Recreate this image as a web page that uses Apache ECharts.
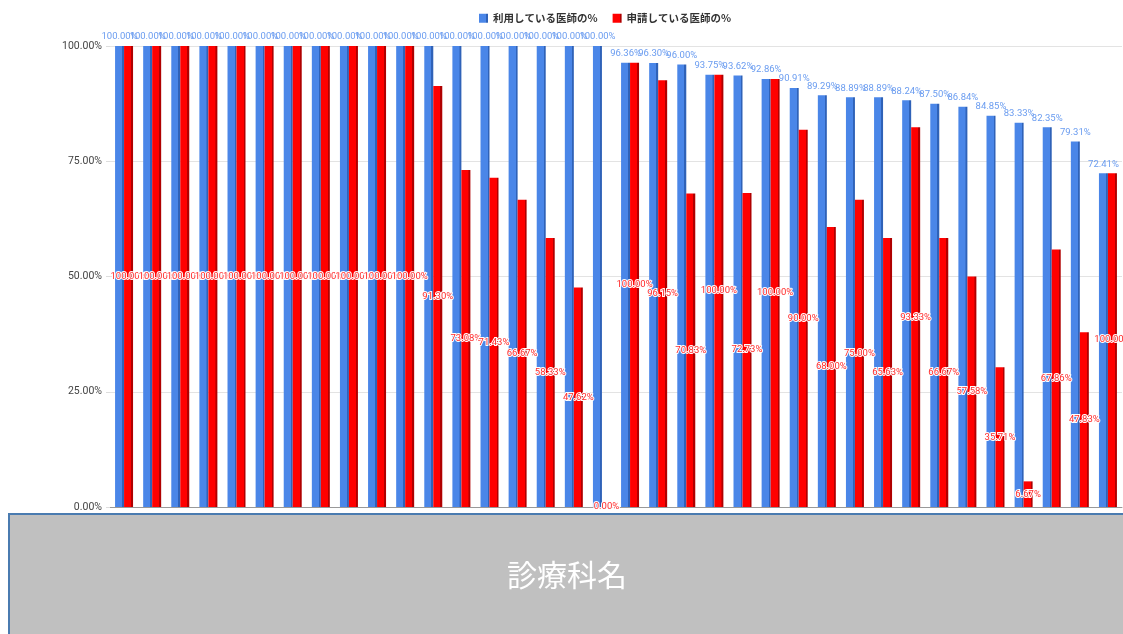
<!DOCTYPE html>
<html>
<head>
<meta charset="utf-8">
<style>
  html, body { margin: 0; padding: 0; background: #fff; }
  #chart { width: 1123px; height: 634px; }
</style>
<script src="https://cdn.jsdelivr.net/npm/echarts@6/dist/echarts.min.js"></script>
</head>
<body>
<div id="chart"></div>
<script>
// 診療科（ラベルは灰色の帯で隠れている）
const categories = Array.from({ length: 36 }, (_, i) => String(i + 1));

// 利用している医師の%
const usingPct = [
  100, 100, 100, 100, 100, 100, 100, 100, 100, 100, 100, 100, 100, 100, 100, 100, 100, 100,
  96.36, 96.30, 96.00, 93.75, 93.62, 92.86, 90.91, 89.29, 88.89, 88.89, 88.24, 87.50,
  86.84, 84.85, 83.33, 82.35, 79.31, 72.41
];

// 申請している医師の%（利用している医師に対する割合）
const applyPct = [
  100, 100, 100, 100, 100, 100, 100, 100, 100, 100, 100, 91.30, 73.08, 71.43, 66.67, 58.33, 47.62, 0,
  100, 96.15, 70.83, 100, 72.73, 100, 90.00, 68.00, 75.00, 65.63, 93.33, 66.67,
  57.58, 35.71, 6.67, 67.86, 47.83, 100
];

const yTicks = [0, 25, 50, 75, 100];
const legendNames = ['利用している医師の%', '申請している医師の%'];

// 赤い棒の高さは 利用% × 申請%
const applyBar = applyPct.map((v, i) => +(usingPct[i] * v / 100).toFixed(2));

const blue = '#4a86e8';
const red = '#ff0000';

function side(main, dark) {
  return {
    type: 'linear', x: 0, y: 0, x2: 1, y2: 0,
    colorStops: [
      { offset: 0, color: main },
      { offset: 0.78, color: main },
      { offset: 0.8, color: dark },
      { offset: 1, color: dark }
    ]
  };
}

const chart = echarts.init(document.getElementById('chart'));
chart.setOption({
  animation: false,
  legend: {
    data: legendNames,
    top: 8,
    left: 474,
    itemWidth: 9,
    itemHeight: 9,
    itemGap: 15,
    icon: 'rect',
    textStyle: { fontSize: 10.5, color: '#333', fontWeight: 'bold', fontFamily: 'Noto Sans CJK JP' }
  },
  grid: { left: 110, right: 1, top: 46, bottom: 127 },
  xAxis: {
    type: 'category',
    data: categories,
    axisTick: { show: false },
    axisLabel: { show: false },
    axisLine: { lineStyle: { color: '#999', width: 1 } }
  },
  yAxis: {
    type: 'value',
    min: 0,
    max: 100,
    interval: 25,
    axisLine: { show: false },
    axisTick: { show: true, length: 4, lineStyle: { color: '#ddd' } },
    splitLine: { lineStyle: { color: '#e3e3e3' } },
    axisLabel: {
      color: '#444',
      fontSize: 10.5,
      margin: 8,
      fontFamily: 'Roboto',
      formatter: v => v.toFixed(2) + '%'
    }
  },
  series: [
    {
      name: legendNames[0],
      type: 'bar',
      data: usingPct,
      barGap: '0%',
      barCategoryGap: '36%',
      itemStyle: { color: side(blue, '#2f62b8') },
      label: {
        show: true,
        position: 'top',
        distance: 4,
        fontSize: 9.5,
        color: '#6a9cf0',
        fontFamily: 'Roboto',
        formatter: p => p.value.toFixed(2) + '%'
      }
    },
    {
      name: legendNames[1],
      type: 'bar',
      data: applyBar,
      itemStyle: { color: side(red, '#b00000') },
      label: {
        show: true,
        position: 'inside',
        fontSize: 9.5,
        color: '#ff2a2a',
        textBorderColor: '#fff',
        textBorderWidth: 2,
        fontFamily: 'Roboto',
        formatter: p => applyPct[p.dataIndex].toFixed(2) + '%'
      },
      labelLayout: { hideOverlap: false }
    }
  ],
  color: [blue, red],
  graphic: [
    {
      type: 'rect',
      left: 8,
      top: 513,
      shape: { width: 1115, height: 121 },
      style: { fill: '#c0c0c0' },
      z: 100
    },
    {
      type: 'rect',
      left: 8,
      top: 513,
      shape: { width: 1115, height: 2 },
      style: { fill: '#4a7bb0' },
      z: 101
    },
    {
      type: 'rect',
      left: 8,
      top: 513,
      shape: { width: 2, height: 121 },
      style: { fill: '#4a7bb0' },
      z: 101
    },
    {
      type: 'text',
      left: 507,
      top: 560,
      style: {
        text: '診療科名',
        fill: '#fff',
        fontSize: 30,
        fontFamily: 'Noto Sans CJK JP'
      },
      z: 102
    }
  ]
});
</script>
</body>
</html>
